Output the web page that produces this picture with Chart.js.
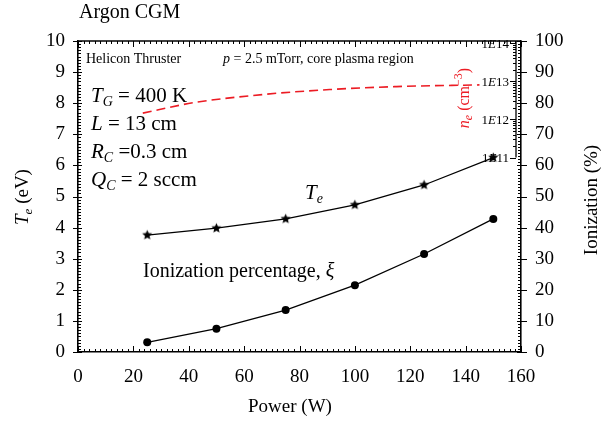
<!DOCTYPE html>
<html>
<head>
<meta charset="utf-8">
<script src="https://cdn.jsdelivr.net/npm/chart.js@4.4.1/dist/chart.umd.min.js"></script>
<style>
  html, body { margin: 0; padding: 0; background: #fff; }
  #wrap { width: 611px; height: 425px; }
</style>
</head>
<body>
<div id="wrap"><canvas id="c" width="611" height="425"></canvas></div>
<script>
// ---- data ----
const power = [25, 50, 75, 100, 125, 150];
const electronTemp = [3.76, 3.98, 4.28, 4.73, 5.37, 6.25];       // T_e (eV), left axis
const ionizationPct = [3.1, 7.5, 13.5, 21.5, 31.5, 42.8];         // ionization (%), right axis
const densityPower = [23.4, 41.5, 66.8, 90.9, 115, 145];          // power for n_e curve
const density = [1.46e12, 2.73e12, 4.5e12, 6.07e12, 7.27e12, 8.05e12]; // n_e (cm^-3)
const xTicks = [0, 20, 40, 60, 80, 100, 120, 140, 160];
const densityTicks = [1e11, 1e12, 1e13, 1e14];
const densityTickLabels = ['11', '12', '13', '14'];

const SERIF = '"Liberation Serif", "DejaVu Serif", serif';
const RED = '#ec1c24';

function pts(xs, ys) { return xs.map((x, i) => ({ x: x, y: ys[i] })); }

// filled five-point star marker
function makeStar(r) {
  const s = Math.ceil(r * 2 + 2);
  const cv = document.createElement('canvas');
  cv.width = s; cv.height = s;
  const g = cv.getContext('2d');
  g.fillStyle = '#000';
  g.beginPath();
  for (let i = 0; i < 10; i++) {
    const rr = i % 2 === 0 ? r : r * 0.45;
    const a = -Math.PI / 2 + i * Math.PI / 5;
    const px = s / 2 + rr * Math.cos(a), py = s / 2 + rr * Math.sin(a);
    if (i === 0) g.moveTo(px, py); else g.lineTo(px, py);
  }
  g.closePath(); g.fill();
  return cv;
}
const starImg = makeStar(5.3);

function drawRich(ctx, x, y, segs, align) {
  let total = 0;
  segs.forEach(s => { ctx.font = s.font; s.w = ctx.measureText(s.t).width; total += s.w; });
  let cx = align === 'center' ? x - total / 2 : (align === 'right' ? x - total : x);
  segs.forEach(s => {
    ctx.font = s.font;
    ctx.fillStyle = s.color || '#000';
    ctx.textAlign = 'left';
    ctx.textBaseline = 'alphabetic';
    ctx.fillText(s.t, cx, y + (s.dy || 0));
    cx += s.w;
  });
}
const F = (size, italic) => (italic ? 'italic ' : '') + size + 'px ' + SERIF;

const decor = {
  id: 'decor',
  beforeDatasetsDraw(chart) {
    const ctx = chart.ctx;
    const a = chart.chartArea;
    const xs = chart.scales.x, yl = chart.scales.y, yr = chart.scales.y2, lg = chart.scales.yLog;
    ctx.save();
    ctx.strokeStyle = '#000';
    // frame top
    ctx.beginPath();
    ctx.lineWidth = 1.6;
    ctx.moveTo(a.left, a.top); ctx.lineTo(a.right, a.top);
    ctx.stroke();
    ctx.lineWidth = 1;
    // x ticks (bottom + top), minor every 2
    ctx.beginPath();
    for (let v = 0; v <= 160; v += 2) {
      const px = Math.round(xs.getPixelForValue(v)) + 0.5;
      const len = v % 20 === 0 ? 6 : 3;
      ctx.moveTo(px, a.bottom); ctx.lineTo(px, a.bottom - len);
      ctx.moveTo(px, a.top); ctx.lineTo(px, a.top + len);
    }
    // left y ticks, minor every 0.1
    for (let i = 0; i <= 100; i++) {
      const py = Math.round(yl.getPixelForValue(i / 10)) + 0.5;
      if (i % 10 === 0) { ctx.moveTo(a.left - 5, py); ctx.lineTo(a.left + 4, py); }
      else { ctx.moveTo(a.left, py); ctx.lineTo(a.left + 3, py); }
    }
    // right y ticks, minor every 1
    for (let i = 0; i <= 100; i++) {
      const py = Math.round(yr.getPixelForValue(i)) + 0.5;
      if (i % 10 === 0) { ctx.moveTo(a.right + 6, py); ctx.lineTo(a.right - 4, py); }
      else { ctx.moveTo(a.right, py); ctx.lineTo(a.right - 3, py); }
    }
    ctx.stroke();
    // inner log axis for n_e
    const lx = a.right - 5;
    const yBot = lg.getPixelForValue(1e11);
    ctx.beginPath();
    ctx.lineWidth = 1.3;
    ctx.moveTo(lx, a.top); ctx.lineTo(lx, yBot);
    ctx.stroke();
    ctx.lineWidth = 1;
    ctx.beginPath();
    for (let d = 11; d <= 14; d++) {
      for (let m = 1; m <= 9; m++) {
        const v = m * Math.pow(10, d);
        const py = Math.round(lg.getPixelForValue(v)) + 0.5;
        if (py < a.top) break;
        const len = m === 1 ? 6 : 3;
        ctx.moveTo(lx, py); ctx.lineTo(lx - len, py);
      }
    }
    ctx.stroke();
    densityTicks.forEach((v, i) => {
      const py = lg.getPixelForValue(v) + 4.5;
      drawRich(ctx, lx - 7, py, [
        { t: '1', font: F(13, false) },
        { t: 'E', font: F(13, true) },
        { t: densityTickLabels[i], font: F(13, false) }
      ], 'right');
    });
    ctx.restore();
  },
  afterDraw(chart) {
    const ctx = chart.ctx;
    ctx.save();
    drawRich(ctx, 79, 18, [{ t: 'Argon CGM', font: F(20) }]);
    drawRich(ctx, 86, 63, [{ t: 'Helicon Thruster', font: F(14) }]);
    drawRich(ctx, 223, 63, [{ t: 'p', font: F(14, true) }, { t: ' = 2.5 mTorr, core plasma region', font: F(14) }]);
    drawRich(ctx, 91, 102, [{ t: 'T', font: F(21, true) }, { t: 'G', font: F(14, true), dy: 4 }, { t: ' = 400 K', font: F(21) }]);
    drawRich(ctx, 91, 130, [{ t: 'L', font: F(21, true) }, { t: ' = 13 cm', font: F(21) }]);
    drawRich(ctx, 91, 158, [{ t: 'R', font: F(21, true) }, { t: 'C', font: F(14, true), dy: 4 }, { t: ' =0.3 cm', font: F(21) }]);
    drawRich(ctx, 91, 186, [{ t: 'Q', font: F(21, true) }, { t: 'C', font: F(14, true), dy: 4 }, { t: ' = 2 sccm', font: F(21) }]);
    drawRich(ctx, 305, 199, [{ t: 'T', font: F(21, true) }, { t: 'e', font: F(14, true), dy: 4 }]);
    drawRich(ctx, 143, 277, [{ t: 'Ionization percentage, ', font: F(20) }, { t: 'ξ', font: F(20, true) }]);
    drawRich(ctx, 290, 412, [{ t: 'Power (W)', font: F(19) }], 'center');
    // rotated titles
    ctx.save();
    ctx.translate(28, 197); ctx.rotate(-Math.PI / 2);
    drawRich(ctx, 0, 0, [{ t: 'T', font: F(19, true) }, { t: 'e', font: F(13, true), dy: 4 }, { t: ' (eV)', font: F(19) }], 'center');
    ctx.restore();
    ctx.save();
    ctx.translate(597, 200); ctx.rotate(-Math.PI / 2);
    drawRich(ctx, 0, 0, [{ t: 'Ionization (%)', font: F(19) }], 'center');
    ctx.restore();
    ctx.save();
    ctx.translate(469, 98); ctx.rotate(-Math.PI / 2);
    drawRich(ctx, 0, 0, [
      { t: 'n', font: F(16, true), color: RED },
      { t: 'e', font: F(12, true), dy: 3, color: RED },
      { t: ' (cm', font: F(16), color: RED },
      { t: '−3', font: F(12), dy: -7, color: RED },
      { t: ')', font: F(16), color: RED }
    ], 'center');
    ctx.restore();
    ctx.restore();
  }
};

const tickFont = { family: SERIF, size: 19 };

new Chart(document.getElementById('c'), {
  type: 'line',
  data: {
    datasets: [
      {
        label: 'n_e',
        data: pts(densityPower, density),
        yAxisID: 'yLog',
        borderColor: RED,
        borderWidth: 1.6,
        borderDash: [9, 5],
        pointRadius: 0,
        cubicInterpolationMode: 'monotone',
        fill: false
      },
      {
        label: 'T_e',
        data: pts(power, electronTemp),
        yAxisID: 'y',
        borderColor: '#000',
        borderWidth: 1.3,
        pointStyle: starImg,
        pointRadius: 6,
        fill: false
      },
      {
        label: 'Ionization',
        data: pts(power, ionizationPct),
        yAxisID: 'y2',
        borderColor: '#000',
        backgroundColor: '#000',
        borderWidth: 1.3,
        pointStyle: 'circle',
        pointRadius: 4,
        pointBorderWidth: 0,
        fill: false
      }
    ]
  },
  options: {
    responsive: false,
    animation: false,
    events: [],
    layout: { padding: { top: 41, left: 0, right: 0, bottom: 0 } },
    plugins: { legend: { display: false }, tooltip: { enabled: false } },
    scales: {
      x: {
        type: 'linear', min: 0, max: 160,
        afterBuildTicks: s => { s.ticks = xTicks.map(v => ({ value: v })); },
        afterFit: s => { s.height = 73; },
        grid: { display: false, drawTicks: false },
        border: { display: true, color: '#000', width: 1.6 },
        ticks: { font: tickFont, color: '#000', padding: 14, maxRotation: 0, autoSkip: false }
      },
      y: {
        type: 'linear', position: 'left', min: 0, max: 10,
        afterFit: s => { s.width = 78; },
        grid: { display: false, drawTicks: false },
        border: { display: true, color: '#000', width: 1.6 },
        ticks: { stepSize: 1, font: tickFont, color: '#000', padding: 13 }
      },
      y2: {
        type: 'linear', position: 'right', min: 0, max: 100,
        afterFit: s => { s.width = 90; },
        grid: { display: false, drawTicks: false },
        border: { display: true, color: '#000', width: 1.6 },
        ticks: { stepSize: 10, font: tickFont, color: '#000', padding: 14 }
      },
      yLog: {
        type: 'logarithmic', position: 'right', display: false,
        min: Math.pow(10, 5.895), max: Math.pow(10, 14.058)
      }
    }
  },
  plugins: [decor]
});
</script>
</body>
</html>
